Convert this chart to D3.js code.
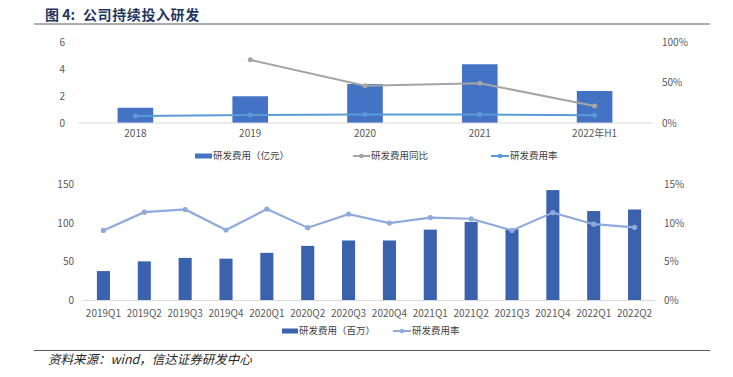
<!DOCTYPE html>
<html>
<head>
<meta charset="utf-8">
<script src="https://cdn.jsdelivr.net/npm/d3@7"></script>
<style>
  body { margin: 0; background: #fff; }
  svg { display: block; }
  text { font-family: "Noto Sans CJK SC", "Noto Sans", sans-serif; }
</style>
</head>
<body>
<div id="viz"></div>
<script>
// top chart: yearly
const years = ["2018", "2019", "2020", "2021", "2022年H1"];
const yearSpend = [1.13, 1.98, 2.89, 4.35, 2.37];       // 亿元
const yearYoY = [null, 0.78, 0.46, 0.49, 0.21];
const yearRate = [0.085, 0.10, 0.105, 0.105, 0.095];

// bottom chart: quarterly
const quarters = ["2019Q1", "2019Q2", "2019Q3", "2019Q4", "2020Q1", "2020Q2", "2020Q3",
  "2020Q4", "2021Q1", "2021Q2", "2021Q3", "2021Q4", "2022Q1", "2022Q2"];
const quarterSpend = [38, 50.5, 55, 54, 61.5, 70.5, 77.5, 77.5, 91.5, 101.5, 92, 142.5, 115.5, 117.5]; // 百万
const quarterRate = [0.0905, 0.114, 0.1175, 0.091, 0.118, 0.094, 0.1115, 0.10, 0.107, 0.1055, 0.0905, 0.1135, 0.0985, 0.0945];

const topLeftTicks = [0, 2, 4, 6];
const topRightTicks = [0, 0.5, 1];
const botLeftTicks = [0, 50, 100, 150];
const botRightTicks = [0, 0.05, 0.10, 0.15];

const w = 733, h = 377;
const svg = d3.select("#viz")
  .append("svg")
  .attr("width", w)
  .attr("height", h)
  .attr("viewBox", "0 0 733 377");

const tickColor = "#595959";
const axisColor = "#d9d9d9";

// header
const title = svg.append("text")
  .attr("x", 45).attr("y", 20)
  .attr("font-size", 14).attr("font-weight", "bold")
  .attr("fill", "#1f3864");
title.append("tspan").text("图 4:");
title.append("tspan").attr("x", 83).attr("letter-spacing", 0.6).text("公司持续投入研发");
svg.append("line")
  .attr("x1", 34).attr("x2", 710).attr("y1", 24).attr("y2", 24)
  .attr("stroke", "#5a5a5a").attr("stroke-width", 1.2);

// ---------- top chart ----------
const x1 = d3.scaleBand().domain(years).range([78, 652]).paddingInner(0.69).paddingOuter(0.345);
const y1 = d3.scaleLinear().domain([0, 6]).range([123, 42]);
const y1r = d3.scaleLinear().domain([0, 1]).range([123, 42]);

const gTop = svg.append("g");

gTop.selectAll(".lt").data(topLeftTicks).enter().append("text")
  .attr("x", 65).attr("y", d => y1(d)).attr("dy", "0.35em")
  .attr("text-anchor", "end").attr("font-size", 10).attr("fill", tickColor)
  .text(d => d);
gTop.selectAll(".rt").data(topRightTicks).enter().append("text")
  .attr("x", 662).attr("y", d => y1r(d)).attr("dy", "0.35em")
  .attr("font-size", 10).attr("fill", tickColor)
  .text(d => d3.format(".0%")(d));

gTop.selectAll("rect.bar").data(years).enter().append("rect")
  .attr("x", d => x1(d))
  .attr("width", x1.bandwidth())
  .attr("y", (d, i) => y1(yearSpend[i]))
  .attr("height", (d, i) => y1(0) - y1(yearSpend[i]))
  .attr("fill", "#4472c4");

gTop.append("line")
  .attr("x1", 78).attr("x2", 652).attr("y1", y1(0)).attr("y2", y1(0))
  .attr("stroke", axisColor).attr("stroke-width", 1);

gTop.selectAll(".xl").data(years).enter().append("text")
  .attr("x", d => x1(d) + x1.bandwidth() / 2).attr("y", 137)
  .attr("text-anchor", "middle").attr("font-size", 10).attr("fill", tickColor)
  .text(d => d);

const cx1 = d => x1(d) + x1.bandwidth() / 2;
const yoyPts = years.map((d, i) => ({ x: cx1(d), v: yearYoY[i] })).filter(p => p.v !== null);
const ratePts = years.map((d, i) => ({ x: cx1(d), v: yearRate[i] }));

const line1 = d3.line().x(p => p.x).y(p => y1r(p.v));
gTop.append("path").datum(yoyPts).attr("d", line1)
  .attr("fill", "none").attr("stroke", "#a5a5a5").attr("stroke-width", 2);
gTop.selectAll(".yoyDot").data(yoyPts).enter().append("circle")
  .attr("cx", p => p.x).attr("cy", p => y1r(p.v)).attr("r", 2.5).attr("fill", "#a5a5a5");
gTop.append("path").datum(ratePts).attr("d", line1)
  .attr("fill", "none").attr("stroke", "#5b9bd5").attr("stroke-width", 2);
gTop.selectAll(".rateDot").data(ratePts).enter().append("circle")
  .attr("cx", p => p.x).attr("cy", p => y1r(p.v)).attr("r", 2.5).attr("fill", "#5b9bd5");

// top legend
const lg1 = gTop.append("g").attr("font-size", 9.5).attr("fill", "#404040");
lg1.append("rect").attr("x", 195).attr("y", 153.5).attr("width", 17).attr("height", 5).attr("fill", "#4472c4");
lg1.append("text").attr("x", 213).attr("y", 156).attr("dy", "0.35em").text("研发费用（亿元）");
lg1.append("line").attr("x1", 353).attr("x2", 370).attr("y1", 156).attr("y2", 156).attr("stroke", "#a5a5a5").attr("stroke-width", 2);
lg1.append("circle").attr("cx", 361.5).attr("cy", 156).attr("r", 2.3).attr("fill", "#a5a5a5");
lg1.append("text").attr("x", 371).attr("y", 156).attr("dy", "0.35em").text("研发费用同比");
lg1.append("line").attr("x1", 491).attr("x2", 509).attr("y1", 156).attr("y2", 156).attr("stroke", "#5b9bd5").attr("stroke-width", 2);
lg1.append("circle").attr("cx", 500).attr("cy", 156).attr("r", 2.3).attr("fill", "#5b9bd5");
lg1.append("text").attr("x", 510).attr("y", 156).attr("dy", "0.35em").text("研发费用率");

// ---------- bottom chart ----------
const x2 = d3.scaleBand().domain(quarters).range([83, 655]).paddingInner(0.68).paddingOuter(0.34);
const y2 = d3.scaleLinear().domain([0, 150]).range([300.5, 184.3]);
const y2r = d3.scaleLinear().domain([0, 0.15]).range([300.5, 184.3]);

const gBot = svg.append("g");

gBot.selectAll(".lt").data(botLeftTicks).enter().append("text")
  .attr("x", 74).attr("y", d => y2(d)).attr("dy", "0.35em")
  .attr("text-anchor", "end").attr("font-size", 10).attr("fill", tickColor)
  .text(d => d);
gBot.selectAll(".rt").data(botRightTicks).enter().append("text")
  .attr("x", 664).attr("y", d => y2r(d)).attr("dy", "0.35em")
  .attr("font-size", 10).attr("fill", tickColor)
  .text(d => d3.format(".0%")(d));

gBot.selectAll("rect.bar").data(quarters).enter().append("rect")
  .attr("x", d => x2(d))
  .attr("width", x2.bandwidth())
  .attr("y", (d, i) => y2(quarterSpend[i]))
  .attr("height", (d, i) => y2(0) - y2(quarterSpend[i]))
  .attr("fill", "#3a62ad");

gBot.append("line")
  .attr("x1", 83).attr("x2", 655).attr("y1", y2(0)).attr("y2", y2(0))
  .attr("stroke", axisColor).attr("stroke-width", 1);

gBot.selectAll(".xl").data(quarters).enter().append("text")
  .attr("x", d => x2(d) + x2.bandwidth() / 2).attr("y", 313)
  .attr("dy", "0.35em")
  .attr("text-anchor", "middle").attr("font-size", 10).attr("fill", tickColor)
  .text(d => d);

const qPts = quarters.map((d, i) => ({ x: x2(d) + x2.bandwidth() / 2, v: quarterRate[i] }));
gBot.append("path").datum(qPts)
  .attr("d", d3.line().x(p => p.x).y(p => y2r(p.v)))
  .attr("fill", "none").attr("stroke", "#8faadc").attr("stroke-width", 2.2);
gBot.selectAll(".qDot").data(qPts).enter().append("circle")
  .attr("cx", p => p.x).attr("cy", p => y2r(p.v)).attr("r", 2.6).attr("fill", "#8faadc");

// bottom legend
const lg2 = gBot.append("g").attr("font-size", 9.5).attr("fill", "#404040");
lg2.append("rect").attr("x", 282).attr("y", 328.5).attr("width", 16).attr("height", 5).attr("fill", "#3a62ad");
lg2.append("text").attr("x", 299).attr("y", 331).attr("dy", "0.35em").text("研发费用（百万）");
lg2.append("line").attr("x1", 393).attr("x2", 411).attr("y1", 331).attr("y2", 331).attr("stroke", "#8faadc").attr("stroke-width", 2);
lg2.append("circle").attr("cx", 402).attr("cy", 331).attr("r", 2.3).attr("fill", "#8faadc");
lg2.append("text").attr("x", 412).attr("y", 331).attr("dy", "0.35em").text("研发费用率");

// footer
svg.append("line")
  .attr("x1", 34).attr("x2", 710).attr("y1", 350.5).attr("y2", 350.5)
  .attr("stroke", "#5a5a5a").attr("stroke-width", 1.2);
svg.append("text")
  .attr("x", 48).attr("y", 360).attr("dy", "0.35em")
  .attr("font-size", 12.5).attr("font-style", "italic").attr("fill", "#262626")
  .text("资料来源：wind，信达证券研发中心");
</script>
</body>
</html>
